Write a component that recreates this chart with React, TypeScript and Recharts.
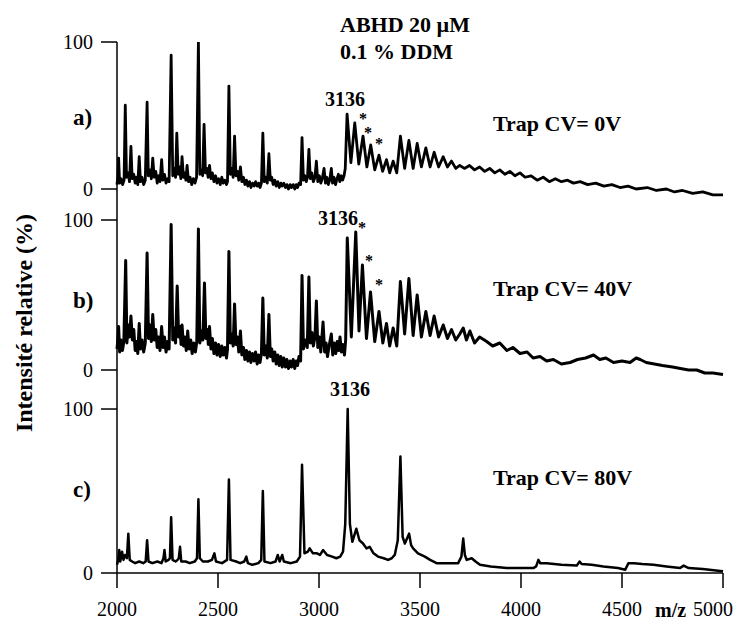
import React from 'react';
import { LineChart, Line, XAxis, YAxis } from 'recharts';

const W = 745;
const H = 621;
const FONT = "'Liberation Serif', 'Times New Roman', serif";

const mzTicks = [2000, 2500, 3000, 3500, 4000, 4500, 5000];
const relTicks = [0, 100];

// [m/z, relative intensity %]
const spectrumA: [number, number][] = [
  [2000, 3], [2004, 8], [2008, 21], [2013, 4], [2020, 7], [2028, 3], [2035, 6], [2041, 57], [2047, 8],
  [2055, 11], [2062, 5], [2069, 29], [2075, 7], [2083, 10], [2090, 4], [2097, 8], [2103, 3], [2110, 22],
  [2116, 5], [2124, 8], [2132, 3], [2140, 6], [2149, 59], [2155, 9], [2163, 13], [2170, 7], [2177, 21],
  [2184, 8], [2192, 12], [2199, 4], [2206, 9], [2213, 5], [2221, 20], [2227, 6], [2235, 10], [2243, 4],
  [2251, 7], [2258, 5], [2268, 91], [2276, 9], [2283, 14], [2290, 8], [2296, 38], [2303, 10], [2310, 15],
  [2316, 7], [2322, 22], [2329, 8], [2336, 11], [2341, 6], [2347, 16], [2354, 5], [2362, 8], [2370, 3],
  [2378, 7], [2386, 4], [2394, 8], [2403, 100], [2410, 10], [2417, 13], [2424, 9], [2431, 44], [2438, 11],
  [2445, 14], [2451, 8], [2458, 16], [2465, 7], [2472, 11], [2480, 5], [2488, 9], [2495, 4], [2503, 7],
  [2511, 3], [2519, 8], [2526, 4], [2534, 6], [2542, 3], [2547, 5], [2554, 70], [2561, 10], [2568, 14],
  [2575, 8], [2582, 36], [2589, 9], [2596, 12], [2603, 6], [2611, 15], [2618, 5], [2626, 8], [2633, 3],
  [2641, 6], [2648, 2], [2656, 5], [2663, 1], [2671, 4], [2679, 2], [2686, 5], [2694, 2], [2701, 4],
  [2708, 1], [2715, 4], [2722, 38], [2729, 5], [2737, 8], [2744, 4], [2752, 24], [2759, 6], [2766, 8],
  [2773, 3], [2781, 6], [2788, 2], [2796, 5], [2803, 1], [2811, 4], [2818, 2], [2826, 4], [2834, 1],
  [2841, 3], [2849, 0], [2857, 3], [2864, 1], [2872, 3], [2880, 0], [2887, 3], [2894, 1], [2901, 4],
  [2909, 3], [2916, 35], [2923, 6], [2930, 9], [2937, 5], [2943, 8], [2950, 27], [2957, 7], [2964, 11],
  [2972, 5], [2980, 8], [2987, 19], [2994, 5], [3002, 9], [3009, 4], [3016, 7], [3025, 14], [3032, 4],
  [3039, 8], [3046, 3], [3053, 6], [3061, 14], [3067, 4], [3074, 8], [3082, 3], [3089, 7], [3096, 10],
  [3103, 5], [3110, 9], [3117, 6], [3124, 9], [3130, 14], [3139, 51], [3158, 18], [3177, 45], [3197, 17],
  [3218, 36], [3237, 15], [3256, 30], [3276, 13], [3297, 23], [3315, 12], [3334, 20], [3350, 11],
  [3367, 19], [3385, 11], [3403, 36], [3424, 14], [3445, 33], [3466, 14], [3486, 31], [3507, 15],
  [3529, 28], [3550, 15], [3570, 25], [3592, 15], [3615, 22], [3636, 15], [3656, 19], [3677, 14],
  [3697, 16], [3720, 14], [3745, 16], [3770, 13], [3795, 15], [3820, 12], [3845, 14], [3870, 11],
  [3895, 13], [3920, 10], [3945, 12], [3970, 9], [3995, 11], [4020, 8], [4050, 9], [4080, 6], [4110, 8],
  [4140, 5], [4170, 7], [4200, 5], [4230, 6], [4260, 4], [4293, 5], [4330, 3], [4370, 4], [4410, 2],
  [4450, 3], [4490, 1], [4530, 2], [4570, 0], [4625, 1], [4670, -1], [4720, 0], [4760, -2], [4800, -1],
  [4850, -3], [4900, -2], [4950, -4], [5000, -4],
];

const spectrumB: [number, number][] = [
  [2000, 14], [2004, 20], [2008, 29], [2013, 12], [2020, 20], [2027, 13], [2034, 19], [2043, 73], [2049, 18],
  [2056, 30], [2062, 22], [2069, 36], [2076, 20], [2083, 27], [2090, 13], [2097, 19], [2103, 11], [2110, 31],
  [2116, 14], [2124, 20], [2132, 12], [2140, 18], [2149, 78], [2156, 21], [2163, 30], [2170, 19], [2177, 37],
  [2184, 20], [2192, 27], [2199, 15], [2206, 22], [2213, 13], [2221, 29], [2228, 15], [2235, 22], [2243, 12],
  [2251, 19], [2258, 14], [2268, 97], [2276, 20], [2283, 28], [2290, 18], [2298, 56], [2305, 22], [2312, 29],
  [2317, 17], [2322, 30], [2329, 16], [2336, 22], [2343, 13], [2350, 26], [2357, 14], [2365, 20], [2372, 11],
  [2380, 18], [2388, 12], [2395, 19], [2403, 94], [2410, 18], [2418, 26], [2425, 20], [2433, 58], [2440, 21],
  [2447, 27], [2452, 17], [2458, 29], [2465, 14], [2472, 21], [2480, 11], [2488, 18], [2495, 10], [2503, 17],
  [2511, 9], [2519, 16], [2526, 10], [2534, 15], [2542, 8], [2547, 14], [2554, 79], [2561, 18], [2568, 24],
  [2575, 16], [2582, 44], [2589, 17], [2596, 22], [2603, 12], [2611, 26], [2618, 10], [2626, 15], [2633, 7],
  [2641, 13], [2648, 6], [2656, 12], [2663, 5], [2671, 11], [2679, 6], [2686, 12], [2694, 4], [2701, 10],
  [2708, 5], [2715, 11], [2722, 48], [2729, 10], [2737, 16], [2744, 8], [2752, 37], [2759, 9], [2766, 14],
  [2773, 6], [2781, 12], [2788, 4], [2796, 10], [2803, 3], [2811, 9], [2818, 2], [2826, 8], [2834, 2],
  [2841, 7], [2849, 1], [2857, 6], [2864, 2], [2872, 7], [2880, 1], [2887, 6], [2894, 3], [2901, 9],
  [2909, 6], [2916, 63], [2923, 14], [2933, 20], [2942, 15], [2950, 62], [2957, 18], [2965, 25], [2972, 16],
  [2980, 22], [2987, 46], [2994, 15], [3002, 22], [3009, 12], [3020, 32], [3028, 12], [3035, 18], [3042, 9],
  [3050, 16], [3061, 24], [3068, 10], [3075, 18], [3083, 11], [3090, 19], [3097, 13], [3104, 22], [3111, 12],
  [3118, 17], [3126, 10], [3132, 20], [3140, 88], [3160, 22], [3182, 92], [3198, 26], [3215, 70], [3235, 21],
  [3255, 52], [3276, 19], [3297, 39], [3316, 18], [3334, 31], [3350, 16], [3367, 28], [3385, 16], [3403, 59],
  [3424, 24], [3445, 61], [3466, 23], [3486, 50], [3507, 22], [3529, 39], [3550, 23], [3570, 36], [3592, 22],
  [3615, 30], [3636, 21], [3656, 27], [3677, 20], [3697, 24], [3714, 28], [3730, 20], [3747, 26], [3770, 18],
  [3795, 22], [3830, 19], [3860, 16], [3895, 18], [3930, 13], [3960, 15], [3995, 11], [4030, 12], [4060, 8],
  [4094, 9], [4127, 6], [4160, 7], [4200, 4], [4243, 5], [4280, 7], [4320, 8], [4359, 10], [4390, 7],
  [4420, 8], [4458, 5], [4500, 6], [4540, 5], [4570, 8], [4590, 7], [4620, 5], [4660, 4], [4700, 3],
  [4750, 2], [4789, 1], [4830, 0], [4870, 0], [4910, -2], [4950, -2], [5000, -3],
];

const spectrumC: [number, number][] = [
  [2000, 5], [2006, 8], [2011, 14], [2016, 7], [2025, 13], [2032, 8], [2040, 11], [2049, 9], [2056, 24],
  [2063, 8], [2075, 7], [2090, 6], [2110, 7], [2130, 6], [2142, 7], [2149, 20], [2156, 7], [2175, 6],
  [2200, 7], [2220, 6], [2230, 9], [2235, 14], [2241, 7], [2255, 8], [2262, 9], [2268, 34], [2275, 8],
  [2290, 7], [2300, 8], [2306, 9], [2312, 16], [2318, 7], [2340, 7], [2360, 6], [2385, 7], [2396, 9],
  [2403, 45], [2410, 9], [2425, 7], [2450, 7], [2470, 8], [2482, 12], [2490, 7], [2520, 6], [2545, 8],
  [2554, 57], [2562, 8], [2590, 7], [2610, 6], [2630, 7], [2640, 10], [2648, 6], [2670, 5], [2700, 6],
  [2714, 8], [2722, 50], [2730, 7], [2760, 6], [2785, 7], [2796, 11], [2805, 7], [2818, 11], [2826, 7],
  [2860, 6], [2890, 7], [2906, 10], [2916, 66], [2928, 12], [2945, 13], [2954, 15], [2970, 12], [2990, 12],
  [3005, 11], [3020, 14], [3040, 11], [3065, 10], [3086, 9], [3105, 10], [3119, 13], [3130, 30], [3142, 100],
  [3153, 30], [3165, 19], [3185, 27], [3200, 20], [3218, 18], [3235, 15], [3251, 16], [3270, 12], [3292, 10],
  [3320, 9], [3342, 8], [3360, 9], [3375, 11], [3390, 20], [3403, 71], [3414, 22], [3425, 18], [3446, 24],
  [3456, 17], [3466, 15], [3490, 12], [3524, 10], [3550, 8], [3582, 6], [3630, 6], [3689, 6], [3705, 10],
  [3714, 21], [3722, 11], [3731, 8], [3756, 9], [3775, 7], [3797, 5], [3850, 4], [3929, 3], [4000, 3],
  [4061, 3], [4075, 4], [4086, 8], [4095, 6], [4127, 6], [4200, 5], [4276, 4.5], [4290, 7], [4300, 5.5],
  [4350, 5], [4408, 4], [4480, 3], [4516, 2], [4532, 6], [4560, 6], [4600, 5.5], [4656, 5], [4720, 4],
  [4788, 3], [4805, 4.5], [4830, 3], [4900, 2.5], [4987, 1.2], [5000, 1],
];

const trapLabels = ['Trap CV= 0V', 'Trap CV= 40V', 'Trap CV= 80V'];
const panelLetters = ['a)', 'b)', 'c)'];

const panels = [
  { data: spectrumA, top: 42, bottom: 205, domain: [-10.88, 100], width: 2.8 },
  { data: spectrumB, top: 205, bottom: 390, domain: [-13.33, 110], width: 3 },
  { data: spectrumC, top: 390, bottom: 573, domain: [0, 111.6], width: 2.5 },
];

const axisStroke = { stroke: '#000', strokeWidth: 1.5 };
const tickFont = { fill: '#000', fontSize: 20, fontFamily: FONT };

const MzTick = (props: any) => {
  const { x, y, payload } = props;
  const shift = payload.value === 5000 ? -10 : 0;
  return (
    <text x={x + shift} y={y} dy="0.71em" textAnchor="middle" fill="#000" fontSize={20} fontFamily={FONT}>
      {payload.value}
    </text>
  );
};

const Panel = ({ idx }: { idx: number }) => {
  const p = panels[idx];
  const last = idx === panels.length - 1;
  const rows = p.data.map(([mz, v]) => ({ mz, v }));
  return (
    <div style={{ position: 'absolute', left: 0, top: 0 }}>
      <LineChart
        width={W}
        height={H}
        data={rows}
        margin={{ top: p.top, right: 22, left: 0, bottom: last ? H - p.bottom - 48 : H - p.bottom }}
      >
        <XAxis
          type="number"
          dataKey="mz"
          domain={[2000, 5000]}
          ticks={mzTicks}
          interval={0}
          hide={!last}
          height={48}
          axisLine={axisStroke}
          tickLine={axisStroke}
          tickSize={15}
          tickMargin={14}
          tick={<MzTick />}
        />
        <YAxis
          type="number"
          domain={p.domain}
          allowDataOverflow
          ticks={relTicks}
          interval={0}
          width={117}
          axisLine={axisStroke}
          tickLine={axisStroke}
          tickSize={16}
          tickMargin={8}
          tick={tickFont}
        />
        <Line
          type="linear"
          dataKey="v"
          stroke="#000"
          strokeWidth={p.width}
          strokeLinejoin="round"
          dot={false}
          isAnimationActive={false}
        />
      </LineChart>
    </div>
  );
};

const Annotations = () => {
  const bold = { fontFamily: FONT, fontWeight: 700, fill: '#000' } as const;
  const star = (x: number, cy: number, k: string) => (
    <text key={k} x={x} y={cy + 7} textAnchor="middle" fontSize={16} {...bold}>*</text>
  );
  return (
    <svg width={W} height={H} style={{ position: 'absolute', left: 0, top: 0 }}>
      <text x={340} y={32} fontSize={22} {...bold}>ABHD 20 µM</text>
      <text x={340} y={59} fontSize={22} {...bold}>0.1 % DDM</text>

      <text x={73} y={125} fontSize={23} {...bold}>{panelLetters[0]}</text>
      <text x={73} y={308} fontSize={23} {...bold}>{panelLetters[1]}</text>
      <text x={73} y={497} fontSize={23} {...bold}>{panelLetters[2]}</text>

      <text x={493} y={131} fontSize={22} {...bold}>{trapLabels[0]}</text>
      <text x={493} y={296} fontSize={22} {...bold}>{trapLabels[1]}</text>
      <text x={493} y={485} fontSize={22} {...bold}>{trapLabels[2]}</text>

      <text x={325} y={106} fontSize={20} {...bold}>3136</text>
      {star(363, 117, 'a1')}
      {star(368, 131, 'a2')}
      {star(379, 142, 'a3')}

      <text x={318} y={225} fontSize={20} {...bold}>3136</text>
      {star(362, 226, 'b1')}
      {star(369, 259, 'b2')}
      {star(379, 283, 'b3')}

      <text x={330} y={396} fontSize={20} {...bold}>3136</text>

      <text x={655} y={617} fontSize={20} {...bold}>m/z</text>

      <text
        x={32}
        y={323}
        fontSize={24}
        textAnchor="middle"
        transform="rotate(-90, 32, 323)"
        {...bold}
      >
        Intensité relative (%)
      </text>
    </svg>
  );
};

export default function App() {
  return (
    <div style={{ position: 'absolute', left: 0, top: 0, width: W, height: H, background: '#fff' }}>
      <Panel idx={0} />
      <Panel idx={1} />
      <Panel idx={2} />
      <Annotations />
    </div>
  );
}
